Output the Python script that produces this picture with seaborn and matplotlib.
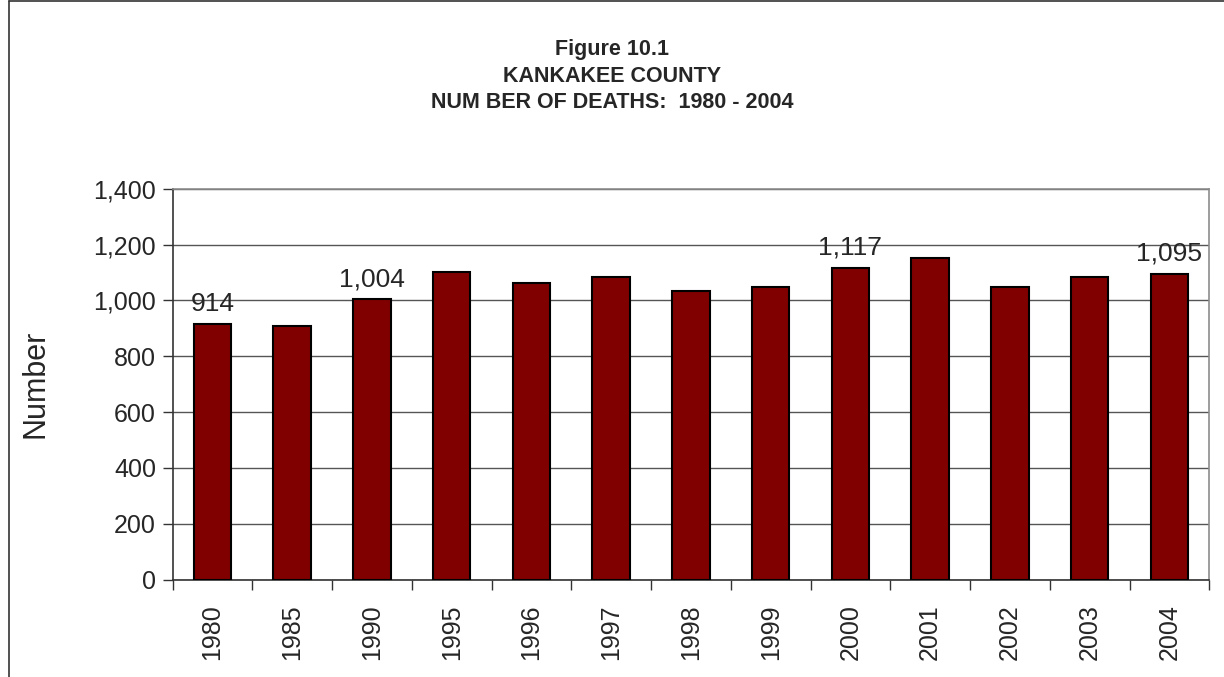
"""Kankakee County number of deaths, 1980 - 2004 (Figure 10.1)."""

import matplotlib

matplotlib.use("Agg")
import matplotlib.pyplot as plt
import matplotlib.ticker as mticker
import numpy as np
import pandas as pd
import seaborn as sns
from matplotlib.lines import Line2D

years = ["1980", "1985", "1990", "1995", "1996", "1997", "1998",
         "1999", "2000", "2001", "2002", "2003", "2004"]
deaths = [914, 908, 1004, 1103, 1063, 1083, 1035, 1050, 1117, 1152, 1050, 1083, 1095]
labelled_years = ["1980", "1990", "2000", "2004"]
title_lines = ["Figure 10.1", "KANKAKEE COUNTY", "NUM BER OF DEATHS:  1980 - 2004"]

sns.set_style("white")
plt.rcParams["font.family"] = ["Liberation Sans", "DejaVu Sans"]

df = pd.DataFrame({"year": years, "deaths": deaths})

fig = plt.figure(figsize=(12.24, 6.77), dpi=100)
ax = fig.add_axes([0.141, 0.144, 0.847, 0.577])

sns.barplot(data=df, x="year", y="deaths", color="#800000", saturation=1,
            edgecolor="black", linewidth=1.5, width=0.47, ax=ax, zorder=3)

ax.set_xlim(-0.5, len(years) - 0.5)
ax.set_ylim(0, 1400)
ax.set_yticks(np.arange(0, 1401, 200))
ax.yaxis.set_major_formatter(mticker.FuncFormatter(lambda v, _: f"{int(v):,}"))
ax.yaxis.grid(True, color="#555555", linewidth=1)
ax.set_axisbelow(True)

# ticks sit between the categories
ax.set_xticks(np.arange(-0.5, len(years)), minor=True)
ax.tick_params(axis="x", which="major", length=0, pad=18, labelsize=18, labelrotation=90)
ax.tick_params(axis="x", which="minor", length=7, width=1, color="#333333", direction="out")
ax.tick_params(axis="y", length=7, width=1, color="#333333", direction="out", labelsize=18, pad=5)
ax.tick_params(bottom=True, left=True, which="both")

for side in ["left", "bottom"]:
    ax.spines[side].set_color("#333333")
    ax.spines[side].set_linewidth(1.2)
for side in ["top", "right"]:
    ax.spines[side].set_color("#8c8c8c")
    ax.spines[side].set_linewidth(1.2)

ax.set_xlabel("")
ax.set_ylabel("Number", fontsize=22, labelpad=31)

for i, (yr, val) in enumerate(zip(years, deaths)):
    if yr in labelled_years:
        ax.annotate(f"{val:,}", (i, val), xytext=(0, 6), textcoords="offset points",
                    ha="center", va="bottom", fontsize=19)

for k, line in enumerate(title_lines):
    fig.text(0.5, 1 - (49 + 27 * k) / 677, line, ha="center", va="center",
             fontsize=15.5, fontweight="bold")

# outer chart border
fig.add_artist(Line2D([9 / 1224, 9 / 1224], [0, 1 - 1 / 677], color="#333333", lw=1.2))
fig.add_artist(Line2D([9 / 1224, 1], [1 - 1 / 677, 1 - 1 / 677], color="#333333", lw=1.2))

fig.savefig("out.png", dpi=100)
